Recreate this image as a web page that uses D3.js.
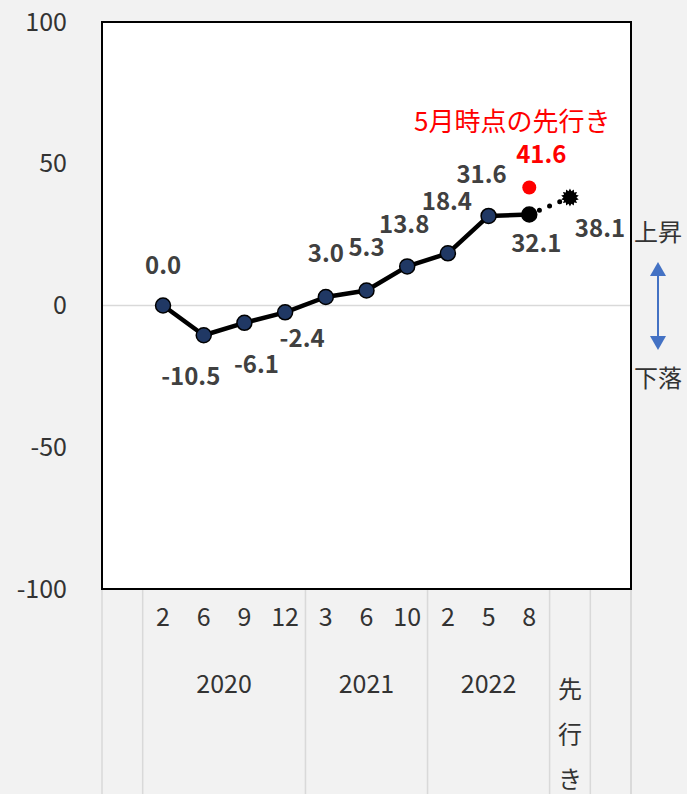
<!DOCTYPE html>
<html><head><meta charset="utf-8">
<script src="https://cdn.jsdelivr.net/npm/d3@7"></script>
<style>
html,body{margin:0;padding:0;background:#f2f2f2;}
svg{display:block;}
text{font-family:"Noto Sans CJK JP","Noto Sans",sans-serif;}
</style></head>
<body>
<svg id="chart" width="687" height="794"></svg>
<script>
// ---- data ----
const categories = ["", "2", "6", "9", "12", "3", "6", "10", "2", "5", "8", "先行き", ""];
const groupOf    = ["", "2020", "2020", "2020", "2020", "2021", "2021", "2021", "2022", "2022", "2022", "先行き", ""];
const actual     = [null, 0.0, -10.5, -6.1, -2.4, 3.0, 5.3, 13.8, 18.4, 31.6, 32.1, null, null];
const outlook    = [null, null, null, null, null, null, null, null, null, null, 32.1, 38.1, null];
const mayOutlook = [null, null, null, null, null, null, null, null, null, null, 41.6, null, null];
const yTicks     = [100, 50, 0, -50, -100];
const legendText = "5月時点の先行き";
const upText = "上昇", downText = "下落";
// label placement relative to its point (dx, dy) in pixels
const labelOffsets = {
  1:[0,-40], 2:[-13,41], 3:[12,42], 4:[17,26], 5:[0,-43], 6:[0,-43],
  7:[-3,-42], 8:[-1,-52], 9:[-7,-41], 10:[7,29]
};

const loc = d3.formatLocale({decimal: ".", thousands: ",", grouping: [3], currency: ["", ""], minus: "-"});
const f1 = loc.format(".1f"), f0 = loc.format("d");

// ---- layout ----
const svg = d3.select("#chart");
const L = 102, R = 631, T = 22, B = 589;
const x = d3.scaleBand().domain(d3.range(categories.length)).range([L, R]).paddingInner(0).paddingOuter(0);
const cx = i => x(i) + x.bandwidth() / 2;
const y = d3.scaleLinear().domain([-100, 100]).range([B, T]);
const FONT = '"Noto Sans CJK JP","Noto Sans",sans-serif';

svg.append("rect").attr("width", 687).attr("height", 794).attr("fill", "#f2f2f2");
svg.append("rect").attr("x", L).attr("y", T).attr("width", R - L).attr("height", B - T).attr("fill", "#fff");

// zero line
svg.append("line").attr("x1", L).attr("x2", R).attr("y1", y(0)).attr("y2", y(0))
  .attr("stroke", "#d9d9d9").attr("stroke-width", 1.5);

// y axis labels
const yAxis = d3.axisLeft(y).tickValues(yTicks).tickSize(0).tickPadding(0).tickFormat(f0);
const ya = svg.append("g").attr("transform", `translate(67,0)`).call(yAxis);
ya.select(".domain").remove();
ya.selectAll("text").attr("font-size", 25).attr("fill", "#333").style("font-family", FONT);

// category axis: group separators
const groups = [];
groupOf.forEach((g, i) => {
  if (groups.length && groups[groups.length - 1].name === g && g !== "") groups[groups.length - 1].end = i;
  else groups.push({name: g, start: i, end: i});
});
const sepX = new Set([L, R]);
groups.forEach(g => { sepX.add(x(g.start)); sepX.add(x(g.end) + x.bandwidth()); });
svg.append("g").selectAll("line").data([...sepX]).join("line")
  .attr("x1", d => d).attr("x2", d => d).attr("y1", B).attr("y2", 794)
  .attr("stroke", "#d9d9d9").attr("stroke-width", 1.5);

// month labels
const xAxis = d3.axisBottom(x).tickSize(0).tickPadding(0).tickFormat(i => categories[i] === "先行き" ? "" : categories[i]);
const xa = svg.append("g").attr("transform", `translate(0,${B})`).call(xAxis);
xa.select(".domain").remove();
xa.selectAll("text").attr("y", 37).attr("dy", "0").attr("font-size", 25).attr("fill", "#333").style("font-family", FONT);

// group labels
groups.filter(g => g.name !== "").forEach(g => {
  const gx = (x(g.start) + x(g.end) + x.bandwidth()) / 2;
  if (g.name === "先行き") {
    [...g.name].forEach((ch, k) => {
      svg.append("text").attr("x", gx).attr("y", 698 + k * 45).attr("text-anchor", "middle")
        .attr("font-size", 24).attr("fill", "#333").text(ch);
    });
  } else {
    svg.append("text").attr("x", gx).attr("y", 693).attr("text-anchor", "middle")
      .attr("font-size", 25).attr("fill", "#333").text(g.name);
  }
});

// plot border
svg.append("rect").attr("x", L).attr("y", T).attr("width", R - L).attr("height", B - T)
  .attr("fill", "none").attr("stroke", "#000").attr("stroke-width", 2);

// outlook dotted line
const outPts = outlook.map((v, i) => v == null ? null : [cx(i), y(v)]).filter(d => d);
svg.append("path").attr("d", d3.line()(outPts)).attr("fill", "none").attr("stroke", "#000")
  .attr("stroke-width", 5).attr("stroke-linecap", "round").attr("stroke-dasharray", "0 11");

// actual line
const actPts = actual.map((v, i) => v == null ? null : {i, v}).filter(d => d);
svg.append("path").datum(actPts)
  .attr("d", d3.line().x(d => cx(d.i)).y(d => y(d.v)))
  .attr("fill", "none").attr("stroke", "#000").attr("stroke-width", 4.5).attr("stroke-linejoin", "round");

// markers
const lastIdx = actPts[actPts.length - 1].i;
svg.append("g").selectAll("circle").data(actPts).join("circle")
  .attr("cx", d => cx(d.i)).attr("cy", d => y(d.v)).attr("r", 7.5)
  .attr("fill", d => d.i === lastIdx ? "#000" : "#203864")
  .attr("stroke", "#000").attr("stroke-width", 1.5);

// outlook end marker (fuzzy blob)
const blob = d3.lineRadial().curve(d3.curveLinearClosed)(
  d3.range(28).map(k => [k * Math.PI * 2 / 28, k % 2 ? 6.5 : 9]));
outlook.forEach((v, i) => {
  if (v == null || i === lastIdx) return;
  svg.append("path").attr("transform", `translate(${cx(i)},${y(v)})`).attr("d", blob).attr("fill", "#000");
  svg.append("text").attr("x", cx(i) + 30).attr("y", y(v) + 31).attr("dy", "0.35em")
    .attr("text-anchor", "middle").attr("font-size", 24).attr("font-weight", "bold")
    .attr("fill", "#404040").text(f1(v));
});

// May outlook red point
mayOutlook.forEach((v, i) => {
  if (v == null) return;
  svg.append("circle").attr("cx", cx(i)).attr("cy", y(v)).attr("r", 7).attr("fill", "#ff0000");
  svg.append("text").attr("x", cx(i) + 12).attr("y", y(v) - 33).attr("dy", "0.35em")
    .attr("text-anchor", "middle").attr("font-size", 24).attr("font-weight", "bold")
    .attr("fill", "#ff0000").text(f1(v));
  svg.append("text").attr("x", cx(i) - 17).attr("y", y(v) - 66).attr("dy", "0.35em")
    .attr("text-anchor", "middle").attr("font-size", 26).attr("fill", "#ff0000").text(legendText);
});

// data labels
svg.append("g").selectAll("text").data(actPts).join("text")
  .attr("x", d => cx(d.i) + labelOffsets[d.i][0])
  .attr("y", d => y(d.v) + labelOffsets[d.i][1])
  .attr("dy", "0.35em").attr("text-anchor", "middle")
  .attr("font-size", 24).attr("font-weight", "bold").attr("fill", "#404040")
  .text(d => f1(d.v));

// up/down annotation
svg.append("text").attr("x", 658).attr("y", 233).attr("dy", "0.35em").attr("text-anchor", "middle")
  .attr("font-size", 24).attr("fill", "#333").text(upText);
svg.append("text").attr("x", 658).attr("y", 379).attr("dy", "0.35em").attr("text-anchor", "middle")
  .attr("font-size", 24).attr("fill", "#333").text(downText);
const ax = 658, aTop = 262, aBot = 350;
svg.append("line").attr("x1", ax).attr("x2", ax).attr("y1", aTop + 10).attr("y2", aBot - 10)
  .attr("stroke", "#4472c4").attr("stroke-width", 2);
svg.append("path").attr("d", `M${ax},${aTop} L${ax-8},${aTop+14} L${ax+8},${aTop+14} Z`).attr("fill", "#4472c4");
svg.append("path").attr("d", `M${ax},${aBot} L${ax-8},${aBot-14} L${ax+8},${aBot-14} Z`).attr("fill", "#4472c4");
</script>
</body></html>
